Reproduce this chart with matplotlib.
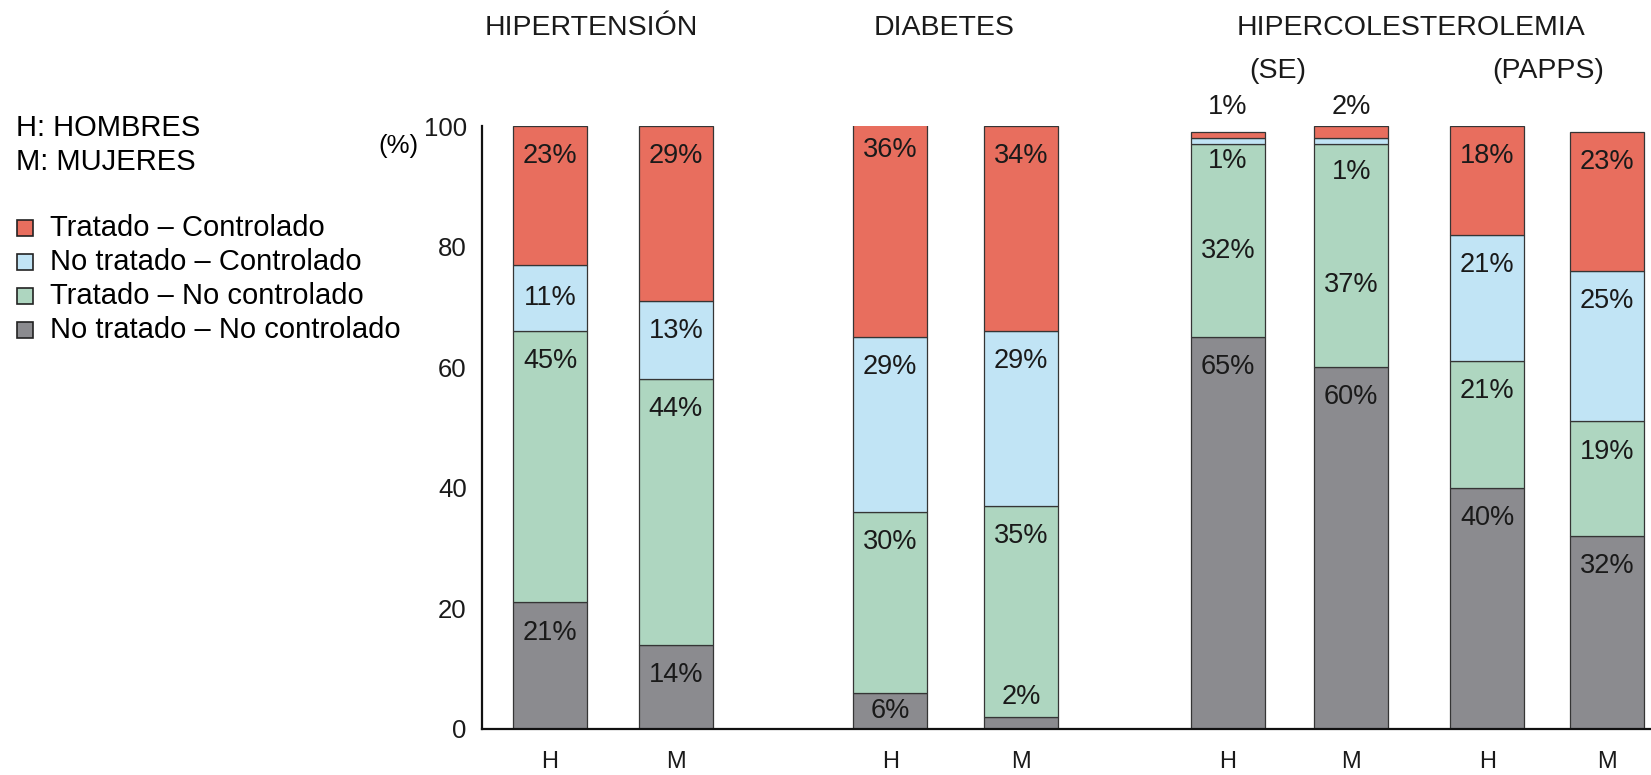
import matplotlib

matplotlib.use("Agg")
import matplotlib.pyplot as plt
from matplotlib.patches import Rectangle
import numpy as np

plt.rcParams["font.family"] = ["Liberation Sans", "DejaVu Sans"]

# ---- data -----------------------------------------------------------------
bar_labels = ["H", "M", "H", "M", "H", "M", "H", "M"]
categories = [
    "Tratado – Controlado",
    "No tratado – Controlado",
    "Tratado – No controlado",
    "No tratado – No controlado",
]
# stacked bottom -> top
no_trat_no_ctrl = [21, 14, 6, 2, 65, 60, 40, 32]
trat_no_ctrl = [45, 44, 30, 35, 32, 37, 21, 19]
no_trat_ctrl = [11, 13, 29, 29, 1, 1, 21, 25]
trat_ctrl = [23, 29, 36, 34, 1, 2, 18, 23]
y_ticks = [0, 20, 40, 60, 80, 100]

# ---- layout / style ---------------------------------------------------------
W, H = 1651, 775
x_pos = np.array([0, 1, 2.70, 3.74, 5.38, 6.36, 7.44, 8.39])
bar_w = 0.59
colors = ["#8b8b8f", "#aed6c0", "#c1e4f5", "#e86e5e"]  # bottom -> top
edge = "#353535"

# label heights (data units) for segments too thin to hold their own label
label_override = {
    (3, 0): 5.3,
    (4, 1): 79.2, (4, 2): 94.2, (4, 3): 103.2,
    (5, 1): 73.7, (5, 2): 92.4, (5, 3): 103.2,
}


def fx(px):
    return px / W


def fy(px):
    return 1 - px / H


fig = plt.figure(figsize=(W / 100, H / 100), dpi=100)
ax = fig.add_axes([fx(482), 46 / H, 1 - fx(482), 603 / H])

stack = [no_trat_no_ctrl, trat_no_ctrl, no_trat_ctrl, trat_ctrl]
bottom = np.zeros(len(x_pos))
for si, (vals, col) in enumerate(zip(stack, colors)):
    vals = np.array(vals, dtype=float)
    ax.bar(x_pos, vals, bar_w, bottom=bottom, color=col,
           edgecolor=edge, linewidth=0.9, zorder=2)
    top = bottom + vals
    for bi, v in enumerate(vals):
        if (bi, si) in label_override:
            y = label_override[(bi, si)]
        elif v >= 13:
            y = top[bi] - 5.0
        else:
            y = bottom[bi] + v / 2
        ax.text(x_pos[bi], y, f"{int(v)}%", ha="center", va="center",
                fontsize=19.5, color="#1a1a1a", zorder=3, clip_on=False)
    bottom = top

ax.set_xlim(-0.54, 8.74)
ax.set_ylim(0, 100)
ax.set_xticks(x_pos, bar_labels)
ax.set_yticks(y_ticks)
ax.tick_params(axis="both", length=0, labelsize=18.5, colors="#1a1a1a")
ax.tick_params(axis="x", pad=16, labelsize=17)
ax.tick_params(axis="y", pad=11)
for side in ("top", "right"):
    ax.spines[side].set_visible(False)
for side in ("left", "bottom"):
    ax.spines[side].set_linewidth(1.6)
    ax.spines[side].set_color("#111111")

fig.text(fx(378), fy(146), "(%)", fontsize=18.5, va="center", ha="left")

# group titles
title_kw = dict(fontsize=20.5, ha="center", va="center", color="#1a1a1a")
fig.text(fx(591), fy(28), "HIPERTENSIÓN", **title_kw)
fig.text(fx(944), fy(28), "DIABETES", **title_kw)
fig.text(fx(1411), fy(28), "HIPERCOLESTEROLEMIA", **title_kw)
fig.text(fx(1278), fy(71), "(SE)", **title_kw)
fig.text(fx(1548), fy(71), "(PAPPS)", **title_kw)

# legend block
fig.text(fx(16), fy(128), "H: HOMBRES", fontsize=21, va="center")
fig.text(fx(16), fy(162), "M: MUJERES", fontsize=21, va="center")
entry_y = [228, 262, 296, 330]
for yy, name, col in zip(entry_y, categories, colors[::-1]):
    fig.patches.append(Rectangle((fx(17), fy(yy + 8)), 16 / W, 16 / H,
                                 transform=fig.transFigure, facecolor=col,
                                 edgecolor="#222222", linewidth=1.2))
    fig.text(fx(50), fy(yy), name, fontsize=21, va="center")

fig.savefig("out.png", dpi=100)
